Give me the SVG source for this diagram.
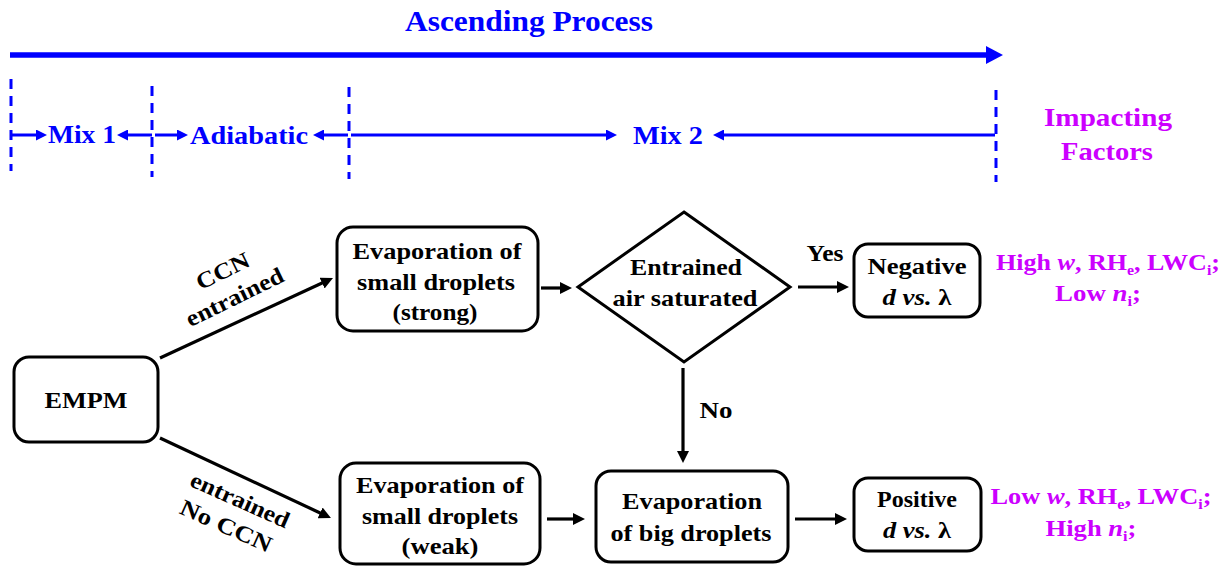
<svg xmlns="http://www.w3.org/2000/svg" width="1232" height="567" viewBox="0 0 1232 567">
  <style>
    text { font-family: "Liberation Serif", "Times New Roman", serif; font-weight: bold; }
    .blue { fill: #0000ff; font-size: 26px; }
    .title { fill: #0000ff; font-size: 29px; }
    .mag { fill: #cc00ff; font-size: 23px; }
    .magh { fill: #cc00ff; font-size: 26px; }
    .blk { fill: #000; font-size: 23px; }
    .it { font-style: italic; }
    .sub { font-size: 14px; }
    .box { fill: #fff; stroke: #000; stroke-width: 3; }
    .dash { stroke: #0000ff; stroke-width: 3; stroke-dasharray: 10 7; fill: none; }
    .barrow { stroke: #0000ff; stroke-width: 3; fill: none; marker-end: url(#bhead); }
    .karrow { stroke: #000; stroke-width: 3.2; fill: none; marker-end: url(#khead); }
  </style>
  <defs>
    <marker id="bighead" markerUnits="userSpaceOnUse" markerWidth="18" markerHeight="18" refX="2" refY="9" orient="auto">
      <path d="M0,0 L17,9 L0,18 z" fill="#0000ff"/>
    </marker>
    <marker id="bhead" markerUnits="userSpaceOnUse" markerWidth="12" markerHeight="11" refX="3" refY="5.5" orient="auto">
      <path d="M0,0 L11,5.5 L0,11 z" fill="#0000ff"/>
    </marker>
    <marker id="khead" markerUnits="userSpaceOnUse" markerWidth="13" markerHeight="12" refX="3" refY="6" orient="auto">
      <path d="M0,0 L12,6 L0,12 z" fill="#000"/>
    </marker>
  </defs>

  <rect width="1232" height="567" fill="#fff"/>

  <!-- Top timeline -->
  <g id="timeline">
    <text class="title" x="529" y="31" text-anchor="middle" textLength="248" lengthAdjust="spacingAndGlyphs">Ascending Process</text>
    <line x1="10" y1="55" x2="988" y2="55" stroke="#0000ff" stroke-width="5.5" marker-end="url(#bighead)"/>
    <line class="dash" x1="11" y1="79" x2="11" y2="171"/>
    <line class="dash" x1="152" y1="86" x2="152" y2="177"/>
    <line class="dash" x1="349" y1="87" x2="349" y2="179"/>
    <line class="dash" x1="996" y1="90" x2="996" y2="182"/>
    <path class="barrow" d="M12,135 L39,135"/>
    <path class="barrow" d="M152,135 L125,135"/>
    <path class="barrow" d="M155,135 L180,135"/>
    <path class="barrow" d="M348,135 L321,135"/>
    <path class="barrow" d="M351,135 L609,135"/>
    <path class="barrow" d="M995,135 L721,135"/>
    <text class="blue" x="82" y="143" text-anchor="middle" textLength="68" lengthAdjust="spacingAndGlyphs">Mix 1</text>
    <text class="blue" x="249" y="144" text-anchor="middle" textLength="118" lengthAdjust="spacingAndGlyphs">Adiabatic</text>
    <text class="blue" x="668" y="144" text-anchor="middle" textLength="70" lengthAdjust="spacingAndGlyphs">Mix 2</text>
    <text class="magh" x="1108" y="126" text-anchor="middle" textLength="128" lengthAdjust="spacingAndGlyphs">Impacting</text>
    <text class="magh" x="1107" y="160" text-anchor="middle" textLength="92" lengthAdjust="spacingAndGlyphs">Factors</text>
  </g>

  <!-- Connectors -->
  <g id="connectors">
    <path class="karrow" d="M160,358 L324.8,281.8"/>
    <path class="karrow" d="M160,438 L322.8,514.2"/>
    <path class="karrow" d="M541,288 L563,288"/>
    <path class="karrow" d="M547,519 L576,519"/>
    <path class="karrow" d="M798,287 L840,287"/>
    <path class="karrow" d="M683,368 L683,454"/>
    <path class="karrow" d="M795,519 L838,519"/>
    <text class="blk" transform="translate(226,278) rotate(-26)" text-anchor="middle" textLength="57" lengthAdjust="spacingAndGlyphs">CCN</text>
    <text class="blk" transform="translate(238,304) rotate(-26)" text-anchor="middle" textLength="106" lengthAdjust="spacingAndGlyphs">entrained</text>
    <text class="blk" transform="translate(237,507) rotate(24)" text-anchor="middle" textLength="106" lengthAdjust="spacingAndGlyphs">entrained</text>
    <text class="blk" transform="translate(223,533) rotate(24)" text-anchor="middle" textLength="98" lengthAdjust="spacingAndGlyphs">No CCN</text>
    <text class="blk" x="825" y="261" text-anchor="middle" textLength="37" lengthAdjust="spacingAndGlyphs">Yes</text>
    <text class="blk" x="716" y="418" text-anchor="middle" textLength="33" lengthAdjust="spacingAndGlyphs">No</text>
  </g>

  <!-- Nodes -->
  <g id="empm">
    <rect class="box" x="14" y="357" width="144" height="85" rx="15"/>
    <text class="blk" x="86" y="408" text-anchor="middle" textLength="83" lengthAdjust="spacingAndGlyphs">EMPM</text>
  </g>

  <g id="evap-small-strong">
    <rect class="box" x="337" y="227" width="201" height="104" rx="16"/>
    <text class="blk" x="437" y="259" text-anchor="middle" textLength="169" lengthAdjust="spacingAndGlyphs">Evaporation of</text>
    <text class="blk" x="436" y="290" text-anchor="middle" textLength="158" lengthAdjust="spacingAndGlyphs">small droplets</text>
    <text class="blk" x="435" y="320" text-anchor="middle" textLength="85" lengthAdjust="spacingAndGlyphs">(strong)</text>
  </g>

  <g id="evap-small-weak">
    <rect class="box" x="340" y="463" width="200" height="101" rx="16"/>
    <text class="blk" x="440" y="493" text-anchor="middle" textLength="168" lengthAdjust="spacingAndGlyphs">Evaporation of</text>
    <text class="blk" x="440" y="524" text-anchor="middle" textLength="156" lengthAdjust="spacingAndGlyphs">small droplets</text>
    <text class="blk" x="440" y="554" text-anchor="middle" textLength="77" lengthAdjust="spacingAndGlyphs">(weak)</text>
  </g>

  <g id="decision">
    <polygon points="684,212 790,287 684,362 578,287" fill="#fff" stroke="#000" stroke-width="3"/>
    <text class="blk" x="686" y="275" text-anchor="middle" textLength="112" lengthAdjust="spacingAndGlyphs">Entrained</text>
    <text class="blk" x="685" y="306" text-anchor="middle" textLength="145" lengthAdjust="spacingAndGlyphs">air saturated</text>
  </g>

  <g id="negative">
    <rect class="box" x="854" y="244" width="126" height="73" rx="14"/>
    <text class="blk" x="917" y="274" text-anchor="middle" textLength="99" lengthAdjust="spacingAndGlyphs">Negative</text>
    <text class="blk" x="917" y="305" text-anchor="middle" textLength="69" lengthAdjust="spacingAndGlyphs"><tspan class="it">d vs.</tspan> λ</text>
  </g>

  <g id="evap-big">
    <rect class="box" x="596" y="471" width="192" height="91" rx="15"/>
    <text class="blk" x="692" y="509" text-anchor="middle" textLength="140" lengthAdjust="spacingAndGlyphs">Evaporation</text>
    <text class="blk" x="691" y="541" text-anchor="middle" textLength="161" lengthAdjust="spacingAndGlyphs">of big droplets</text>
  </g>

  <g id="positive">
    <rect class="box" x="854" y="478" width="127" height="73" rx="14"/>
    <text class="blk" x="917" y="507" text-anchor="middle" textLength="80" lengthAdjust="spacingAndGlyphs">Positive</text>
    <text class="blk" x="917" y="538" text-anchor="middle" textLength="68" lengthAdjust="spacingAndGlyphs"><tspan class="it">d vs.</tspan> λ</text>
  </g>

  <g id="factors-negative">
    <text class="mag" x="1108" y="270" text-anchor="middle" textLength="224" lengthAdjust="spacingAndGlyphs">High <tspan class="it">w</tspan>, RH<tspan class="sub" dy="5">e</tspan><tspan dy="-5">, LWC</tspan><tspan class="sub" dy="5">i</tspan><tspan dy="-5">;</tspan></text>
    <text class="mag" x="1098" y="301" text-anchor="middle" textLength="86" lengthAdjust="spacingAndGlyphs">Low <tspan class="it">n</tspan><tspan class="sub" dy="5">i</tspan><tspan dy="-5">;</tspan></text>
  </g>

  <g id="factors-positive">
    <text class="mag" x="1101" y="504" text-anchor="middle" textLength="221" lengthAdjust="spacingAndGlyphs">Low <tspan class="it">w</tspan>, RH<tspan class="sub" dy="5">e</tspan><tspan dy="-5">, LWC</tspan><tspan class="sub" dy="5">i</tspan><tspan dy="-5">;</tspan></text>
    <text class="mag" x="1091" y="536" text-anchor="middle" textLength="91" lengthAdjust="spacingAndGlyphs">High <tspan class="it">n</tspan><tspan class="sub" dy="5">i</tspan><tspan dy="-5">;</tspan></text>
  </g>
</svg>
